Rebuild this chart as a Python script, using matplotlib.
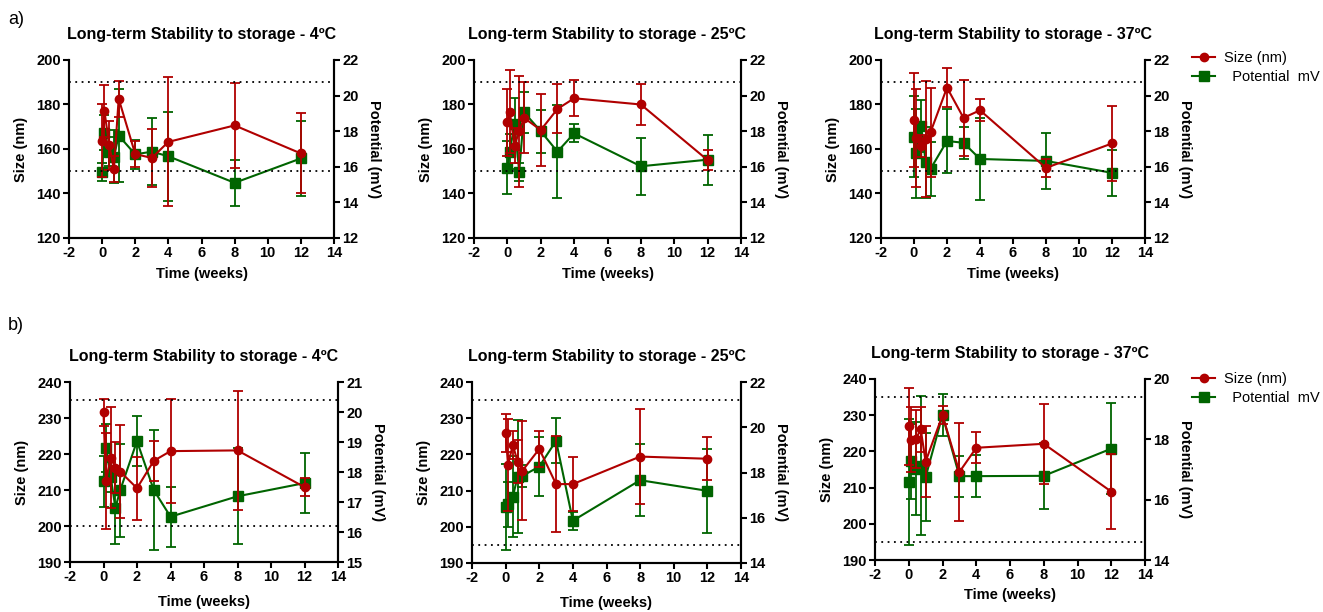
import matplotlib.pyplot as plt
from matplotlib.lines import Line2D

plt.rcParams['font.family'] = ['Liberation Sans', 'DejaVu Sans']
plt.rcParams['axes.unicode_minus'] = False

# time points (weeks): 0, 1 day, 3 days, 5 days, 1, 2, 3, 4, 8, 12 weeks
weeks = [0, 0.14, 0.43, 0.71, 1, 2, 3, 4, 8, 12]

# ---- a) ----
a4_size = [163.7, 177.0, 161.7, 151.0, 182.6, 157.7, 156.0, 163.2, 170.6, 158.0]
a4_size_err = [16.5, 11.7, 11.0, 6.0, 8.0, 6.0, 13.0, 29.0, 19.0, 18.0]
a4_pot = [15.73, 17.92, 16.85, 16.57, 17.75, 16.70, 16.85, 16.59, 15.10, 16.47]
a4_pot_err = [0.5, 1.0, 0.8, 1.5, 2.6, 0.8, 1.9, 2.5, 1.3, 2.1]

a25_size = [172.0, 176.8, 161.5, 168.0, 174.0, 168.5, 178.0, 182.8, 180.0, 155.0]
a25_size_err = [15.0, 18.7, 8.0, 25.0, 16.0, 16.0, 11.0, 8.0, 9.0, 4.5]
a25_pot = [15.95, 16.85, 18.40, 15.73, 19.06, 18.00, 16.85, 17.88, 16.03, 16.40]
a25_pot_err = [1.5, 1.0, 1.45, 0.5, 1.15, 1.2, 2.6, 0.5, 1.6, 1.4]

a37_size = [173.0, 165.0, 161.5, 164.5, 167.5, 187.6, 174.0, 177.4, 151.5, 162.5]
a37_size_err = [21.0, 22.0, 5.0, 26.0, 20.0, 8.8, 17.0, 5.0, 4.2, 17.0]
a37_pot = [17.70, 16.76, 18.30, 16.25, 15.88, 17.45, 17.35, 16.44, 16.33, 15.66]
a37_pot_err = [2.3, 2.5, 1.45, 2.0, 1.5, 1.8, 0.9, 2.3, 1.55, 1.3]

# ---- b) ----
b4_size = [231.6, 212.5, 219.0, 216.2, 215.1, 210.5, 218.1, 220.8, 221.0, 210.8]
b4_size_err = [3.8, 13.3, 14.0, 7.0, 13.0, 8.8, 5.5, 14.4, 16.6, 2.6]
b4_pot = [17.70, 18.80, 17.84, 16.80, 17.40, 19.03, 17.40, 16.51, 17.19, 17.63]
b4_pot_err = [0.85, 0.8, 0.5, 1.2, 1.55, 0.83, 2.0, 1.0, 1.6, 1.0]

b25_size = [225.9, 217.2, 222.6, 218.0, 215.5, 221.5, 211.8, 211.8, 219.4, 218.8]
b25_size_err = [5.3, 12.7, 4.0, 6.0, 13.6, 5.0, 13.2, 7.5, 13.2, 6.0]
b25_pot = [16.49, 16.60, 16.93, 17.82, 17.85, 18.26, 19.40, 15.87, 17.66, 17.19]
b25_pot_err = [1.9, 1.0, 1.8, 2.5, 0.5, 1.3, 1.0, 0.4, 1.6, 1.85]

b37_size = [226.9, 223.2, 223.5, 226.1, 217.2, 230.0, 214.3, 221.0, 222.1, 208.9]
b37_size_err = [10.7, 9.0, 8.0, 6.3, 9.8, 2.5, 13.6, 4.3, 11.0, 10.3]
b37_pot = [16.59, 17.27, 17.03, 17.12, 16.75, 18.80, 16.78, 16.78, 16.79, 17.69]
b37_pot_err = [2.1, 1.25, 1.55, 2.3, 1.45, 0.7, 0.68, 0.7, 1.1, 1.5]

RED = '#b00000'
GREEN = '#006400'

fig = plt.figure(figsize=(13.23, 6.12), dpi=100)
W, H = 1323, 612


def add_axes(x0, x1, y0, y1):
    # pixel box (top-left origin) -> figure fraction
    return fig.add_axes([x0 / W, 1 - y1 / H, (x1 - x0) / W, (y1 - y0) / H])


def panel(box, title, size, size_err, pot, pot_err, ylim, yticks, y2lim, y2ticks,
          dotted, xpad=5):
    ax = add_axes(*box)
    ax2 = ax.twinx()
    # size on top of potential
    ax.set_zorder(ax2.get_zorder() + 1)
    ax.patch.set_visible(False)

    ax2.errorbar(weeks, pot, yerr=pot_err, fmt='-s', color=GREEN, ms=6.5,
                 lw=1.5, elinewidth=1.3, capsize=3.5, capthick=1.3)
    ax.errorbar(weeks, size, yerr=size_err, fmt='-o', color=RED, ms=6,
                lw=1.5, elinewidth=1.3, capsize=3.5, capthick=1.3)
    for d in dotted:
        ax.axhline(d, color='black', ls=(0, (1, 2.5)), lw=1.3)

    ax.set_xlim(-2, 14)
    ax.set_xticks(range(-2, 15, 2))
    ax.set_ylim(*ylim)
    ax.set_yticks(yticks)
    ax2.set_ylim(*y2lim)
    ax2.set_yticks(y2ticks)

    for a in (ax, ax2):
        a.spines['top'].set_visible(False)
        for s in a.spines.values():
            s.set_linewidth(1.5)
        a.tick_params(width=1.5, length=4, labelsize=10.5, pad=2)
        for lab in a.get_xticklabels() + a.get_yticklabels():
            lab.set_fontweight('bold')

    ax.set_title(title, fontsize=11.5, fontweight='bold', pad=15)
    ax.set_xlabel('Time (weeks)', fontsize=10.5, fontweight='bold', labelpad=xpad)
    ax.set_ylabel('Size (nm)', fontsize=10.5, fontweight='bold', labelpad=6)
    ax2.set_ylabel('Potential (mV)', fontsize=10.5, fontweight='bold',
                   rotation=270, labelpad=16)
    return ax


panel((69, 334, 60, 238), 'Long-term Stability to storage - 4ºC',
      a4_size, a4_size_err, a4_pot, a4_pot_err,
      (120, 200), range(120, 201, 20), (12, 22), range(12, 23, 2), [190, 150])
panel((474, 741, 60, 238), 'Long-term Stability to storage - 25ºC',
      a25_size, a25_size_err, a25_pot, a25_pot_err,
      (120, 200), range(120, 201, 20), (12, 22), range(12, 23, 2), [190, 150])
panel((881, 1145, 60, 238), 'Long-term Stability to storage - 37ºC',
      a37_size, a37_size_err, a37_pot, a37_pot_err,
      (120, 200), range(120, 201, 20), (12, 22), range(12, 23, 2), [190, 150])

panel((70, 338, 382, 562), 'Long-term Stability to storage - 4ºC',
      b4_size, b4_size_err, b4_pot, b4_pot_err,
      (190, 240), range(190, 241, 10), (15, 21), range(15, 22, 1), [235, 200],
      xpad=8)
panel((472, 741, 382, 563), 'Long-term Stability to storage - 25ºC',
      b25_size, b25_size_err, b25_pot, b25_pot_err,
      (190, 240), range(190, 241, 10), (14, 22), range(14, 23, 2), [235, 195],
      xpad=8)
panel((875, 1145, 379, 560), 'Long-term Stability to storage - 37ºC',
      b37_size, b37_size_err, b37_pot, b37_pot_err,
      (190, 240), range(190, 241, 10), (14, 20), range(14, 21, 2), [235, 195],
      xpad=4)

handles = [
    Line2D([], [], color=RED, marker='o', ms=6, lw=1.5),
    Line2D([], [], color=GREEN, marker='s', ms=6.5, lw=1.5),
]
labels = ['Size (nm)', '  Potential  mV']
for ytop in (45, 366):
    fig.legend(handles, labels, loc='upper left',
               bbox_to_anchor=(1186 / W, 1 - ytop / H), frameon=False,
               fontsize=10.5, handlelength=1.6, handletextpad=0.6,
               labelspacing=0.35, borderaxespad=0)

fig.text(8 / W, 1 - 24 / H, 'a)', fontsize=13)
fig.text(8 / W, 1 - 330 / H, 'b)', fontsize=13)

fig.savefig('out.png', dpi=100)
